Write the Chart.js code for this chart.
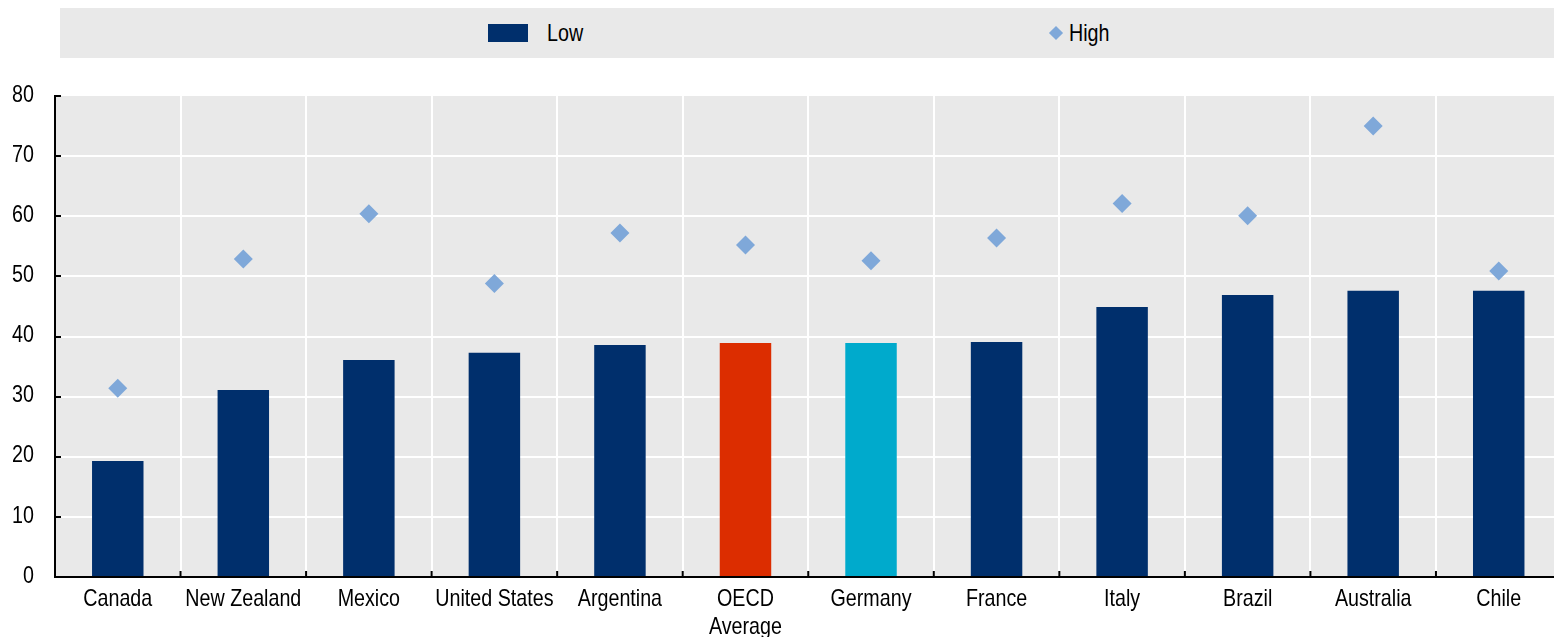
<!DOCTYPE html>
<html>
<head>
<meta charset="utf-8">
<script src="https://cdn.jsdelivr.net/npm/chart.js@4/dist/chart.umd.min.js"></script>
<style>
    body { margin: 0; background: #fff; }
    #wrap { position: relative; width: 1554px; height: 637px; overflow: hidden; }
    #legend {
        position: absolute; left: 60px; top: 8px; width: 1494px; height: 50px;
        background: #e9e9e9;
        font-family: 'Liberation Sans', Arial, sans-serif;
        font-size: 24px; color: #000;
    }
    #legend span { position: absolute; top: 11px; transform: scaleX(0.82); transform-origin: left center; line-height: 28px; }
    .lg-box { position: absolute; left: 428px; top: 16px; width: 40px; height: 18px; background: #002f6c; }
    .lg-dia { position: absolute; left: 991px; top: 20px; width: 10px; height: 10px; background: #7fa8d9; transform: rotate(45deg); }
    #chart { position: absolute; left: 0; top: 0; }
</style>
</head>
<body>
<div id="wrap">
    <div id="legend">
        <div class="lg-box"></div><span style="left:487px">Low</span>
        <div class="lg-dia"></div><span style="left:1009px">High</span>
    </div>
    <canvas id="chart" width="1571" height="637"></canvas>
</div>
<script>
const countries = ['Canada', 'New Zealand', 'Mexico', 'United States', 'Argentina', ['OECD', 'Average'],
    'Germany', 'France', 'Italy', 'Brazil', 'Australia', 'Chile'];
const lowValues = [19.3, 31.1, 36.1, 37.3, 38.6, 38.9, 38.9, 39.1, 44.9, 46.9, 47.6, 47.6];
const highValues = [31.4, 52.9, 60.4, 48.8, 57.2, 55.2, 52.6, 56.4, 62.1, 60.1, 75.0, 50.9];
const yTicks = [0, 10, 20, 30, 40, 50, 60, 70, 80];

const fontFamily = "'Liberation Sans', Arial, sans-serif";
const squeeze = 0.82; // narrow look of the original labels

const barColors = countries.map(c => {
    if (Array.isArray(c)) return '#dc2d00';
    if (c === 'Germany') return '#00aacc';
    return '#002f6c';
});

function narrowText(ctx, text, x, y, align) {
    ctx.save();
    ctx.translate(x, y);
    ctx.scale(squeeze, 1);
    ctx.textAlign = align;
    ctx.fillText(text, 0, 0);
    ctx.restore();
}

// gray plot background, inward tick marks and the axis labels
const plotDecor = {
    id: 'plotDecor',
    beforeDraw(chart) {
        const { ctx, chartArea: a } = chart;
        ctx.save();
        ctx.fillStyle = '#e9e9e9';
        ctx.fillRect(a.left, a.top, a.right - a.left, a.bottom - a.top);
        ctx.restore();
    },
    afterDraw(chart) {
        const { ctx, chartArea: a, scales } = chart;
        ctx.save();
        ctx.strokeStyle = '#000';
        ctx.lineWidth = 2;
        ctx.beginPath();
        yTicks.forEach(v => {
            const y = Math.round(scales.y.getPixelForValue(v));
            ctx.moveTo(a.left, y);
            ctx.lineTo(a.left + 6, y);
        });
        const n = countries.length;
        for (let i = 1; i < n; i++) {
            const x = (scales.x.getPixelForTick(i - 1) + scales.x.getPixelForTick(i)) / 2;
            ctx.moveTo(x, a.bottom);
            ctx.lineTo(x, a.bottom - 6);
        }
        ctx.stroke();

        ctx.fillStyle = '#000';
        ctx.font = '24px ' + fontFamily;
        ctx.textBaseline = 'middle';
        yTicks.forEach(v => {
            narrowText(ctx, String(v), 34, scales.y.getPixelForValue(v) - 1, 'right');
        });
        countries.forEach((c, i) => {
            const x = scales.x.getPixelForTick(i);
            const lines = Array.isArray(c) ? c : [c];
            lines.forEach((t, j) => narrowText(ctx, t, x, a.bottom + 22 + j * 28, 'center'));
        });
        ctx.restore();
    }
};

const ctx = document.getElementById('chart').getContext('2d');
new Chart(ctx, {
    data: {
        labels: countries,
        datasets: [{
            type: 'line',
            label: 'High',
            data: highValues,
            showLine: false,
            pointStyle: 'rectRot',
            pointRadius: 9.5,
            pointHoverRadius: 9.5,
            backgroundColor: '#7fa8d9',
            borderColor: '#7fa8d9',
            borderWidth: 0,
            order: 0
        }, {
            type: 'bar',
            label: 'Low',
            data: lowValues,
            backgroundColor: barColors,
            barPercentage: 0.41,
            categoryPercentage: 1,
            order: 1
        }]
    },
    options: {
        responsive: false,
        animation: false,
        layout: { padding: { top: 96, right: 0, bottom: 0, left: 0 } },
        plugins: {
            legend: { display: false },
            tooltip: { enabled: false }
        },
        scales: {
            x: {
                offset: true,
                grid: { color: '#fff', lineWidth: 2, offset: true, drawTicks: false },
                border: { color: '#000', width: 2 },
                ticks: { display: false },
                afterFit(scale) { scale.height = 60; }
            },
            y: {
                min: 0,
                max: 80,
                afterBuildTicks(scale) { scale.ticks = yTicks.map(v => ({ value: v })); },
                grid: {
                    drawTicks: false,
                    lineWidth: 2,
                    color: ctx => (ctx.tick && (ctx.tick.value === 0 || ctx.tick.value === 80)) ? 'rgba(0,0,0,0)' : '#fff'
                },
                border: { color: '#000', width: 2 },
                ticks: { display: false },
                afterFit(scale) { scale.width = 55; }
            }
        }
    },
    plugins: [plotDecor]
});
</script>
</body>
</html>
